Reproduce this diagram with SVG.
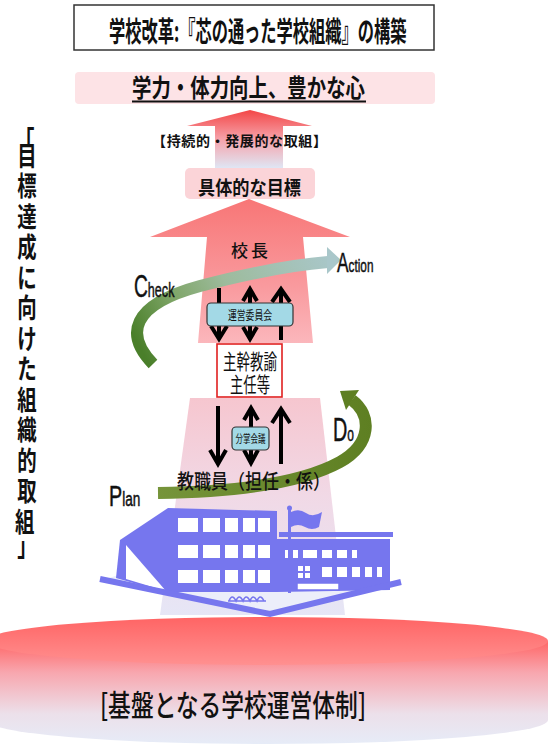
<svg xmlns="http://www.w3.org/2000/svg" width="550" height="753" viewBox="0 0 550 753">
<style>
.jp{font-family:"Noto Sans CJK JP","Noto Sans CJK SC",sans-serif;fill:#111}
.en{font-family:"Liberation Sans",Arial,sans-serif;fill:#111;stroke:#111;stroke-width:0.5}
.ln{stroke:#000;stroke-width:4;fill:none}
.hd{stroke:#000;stroke-width:4;fill:none;stroke-linejoin:miter}
.box{fill:#a3d9e6;stroke:#333;stroke-width:1.2}
.bld{fill:#7676ee}
.win{fill:#fff}
</style>
<defs>
<linearGradient id="gUp" gradientUnits="userSpaceOnUse" x1="0" y1="110" x2="0" y2="168">
<stop offset="0" stop-color="#f34646"/><stop offset="0.5" stop-color="#f6a2aa"/><stop offset="1" stop-color="#dfe6f4"/>
</linearGradient>
<linearGradient id="gBig" gradientUnits="userSpaceOnUse" x1="0" y1="199" x2="0" y2="345">
<stop offset="0" stop-color="#f87676"/><stop offset="0.6" stop-color="#f99a9e"/><stop offset="1" stop-color="#fbb8bd"/>
</linearGradient>
<linearGradient id="gLow" gradientUnits="userSpaceOnUse" x1="0" y1="398" x2="0" y2="615">
<stop offset="0" stop-color="#f6c6cf"/><stop offset="0.45" stop-color="#f1d9e6"/><stop offset="1" stop-color="#e6e6f6"/>
</linearGradient>
<linearGradient id="gTop" gradientUnits="userSpaceOnUse" x1="0" y1="617" x2="0" y2="665">
<stop offset="0" stop-color="#ff6464"/><stop offset="1" stop-color="#ff9090"/>
</linearGradient>
<linearGradient id="gSide" gradientUnits="userSpaceOnUse" x1="0" y1="641" x2="0" y2="745">
<stop offset="0" stop-color="#ff6666"/><stop offset="0.3" stop-color="#f8a6ae"/><stop offset="0.7" stop-color="#ece0ea"/><stop offset="1" stop-color="#e6ecf8"/>
</linearGradient>
<linearGradient id="gCA" gradientUnits="userSpaceOnUse" x1="150" y1="365" x2="335" y2="262">
<stop offset="0" stop-color="#4a7f2a"/><stop offset="0.25" stop-color="#7ea567"/><stop offset="0.5" stop-color="#9dbb9c"/><stop offset="1" stop-color="#a9c7ca"/>
</linearGradient>
<linearGradient id="gPD" gradientUnits="userSpaceOnUse" x1="158" y1="0" x2="372" y2="0">
<stop offset="0" stop-color="#76943a"/><stop offset="1" stop-color="#5e7f22"/>
</linearGradient>
</defs>

<rect width="550" height="753" fill="#fff"/>

<!-- title -->
<g id="title">
<rect x="74" y="5" width="360" height="45" fill="#fff" stroke="#333" stroke-width="1.5"/>
<text class="jp" transform="translate(109,42) scale(0.58,1)" font-size="28" font-weight="bold">学校改革:『芯の通った学校組織』の構築</text>
</g>

<!-- goal banner -->
<g id="goal">
<rect x="75" y="72" width="360" height="32" rx="4" fill="#fde3e6"/>
<text class="jp" x="132" y="97" font-size="25" font-weight="bold" textLength="233" lengthAdjust="spacingAndGlyphs">学力・体力向上、豊かな心</text>
<line x1="132" y1="101.5" x2="366" y2="101.5" stroke="#111" stroke-width="2"/>
</g>

<!-- upper arrow -->
<g id="upper-arrow">
<polygon points="250,110 312,126 283,126 283,168 215,168 215,126 187,126" fill="url(#gUp)"/>
<text class="jp" x="152" y="146" font-size="14" font-weight="bold" textLength="175" lengthAdjust="spacing">【持続的・発展的な取組】</text>
</g>

<g id="target">
<rect x="185" y="168" width="130" height="31" rx="5" fill="#fbd4d8"/>
<text class="jp" x="198" y="195" font-size="19" font-weight="bold" textLength="103" lengthAdjust="spacingAndGlyphs">具体的な目標</text>
</g>

<!-- big arrow (principal) -->
<g id="principal">
<polygon points="249,199 350,237 303,237 313,343 198,343 207,237 150,237" fill="url(#gBig)"/>
</g>

<!-- lower trapezoid -->
<g id="staff-area">
<polygon points="190,398 320,398 345,615 160,615" fill="url(#gLow)"/>
</g>

<!-- base cylinder -->
<g id="base">
<path d="M -14 641 L -14 720 A 281 24 0 0 0 548 720 L 548 641 Z" fill="url(#gSide)"/>
<ellipse cx="267" cy="641" rx="281" ry="24" fill="url(#gTop)"/>
<text class="jp" x="100" y="716" font-size="30" font-weight="500" textLength="266" lengthAdjust="spacingAndGlyphs">[基盤となる学校運営体制]</text>
</g>

<!-- school building -->
<g id="building">
<polygon points="102,580 270,614 401,582 300,576 122,574" fill="#eceefa"/>
<polygon class="bld" points="120,540 168,508 277,511 277,592 165,592 116,578"/>
<polygon class="win" points="126,545 166,591 126,579"/>
<polygon class="bld" points="277,539 390,539 390,590 277,592"/>
<rect class="bld" x="279" y="532" width="114" height="5"/>
<g class="win">
<rect x="178" y="518" width="20" height="14"/><rect x="203" y="518" width="17" height="14"/><rect x="225" y="518" width="13" height="14"/><rect x="243" y="518" width="12" height="14"/><rect x="258" y="518" width="12" height="14"/>
<rect x="178" y="545" width="20" height="13"/><rect x="203" y="545" width="17" height="13"/><rect x="225" y="545" width="13" height="13"/><rect x="243" y="545" width="12" height="13"/><rect x="258" y="545" width="12" height="13"/>
<rect x="178" y="570" width="20" height="13"/><rect x="203" y="570" width="17" height="13"/><rect x="225" y="570" width="13" height="13"/><rect x="243" y="570" width="12" height="13"/><rect x="258" y="570" width="12" height="13"/>
<rect x="285" y="550" width="5" height="8"/><rect x="293" y="550" width="5" height="8"/><rect x="303" y="550" width="14" height="8"/><rect x="322" y="550" width="10" height="8"/><rect x="337" y="550" width="10" height="8"/><rect x="352" y="550" width="5" height="8"/>
<rect x="298" y="566" width="5" height="5"/><rect x="305" y="566" width="5" height="5"/><rect x="298" y="573" width="5" height="5"/><rect x="305" y="573" width="5" height="5"/>
<rect x="322" y="567" width="10" height="10"/><rect x="337" y="567" width="10" height="10"/><rect x="352" y="567" width="8" height="10"/><rect x="365" y="567" width="7" height="10"/><rect x="377" y="567" width="5" height="10"/>
</g>
<rect x="297" y="583" width="42" height="7" fill="#fff" stroke="#7676ee" stroke-width="1.5"/>
<rect class="bld" x="288" y="509" width="3" height="84"/>
<circle class="bld" cx="289.5" cy="508" r="2.5"/>
<path class="bld" d="M 291 512 Q 299 508 306 513 Q 313 518 322 512 L 319 527 Q 312 531 305 527 Q 298 523 291 527 Z"/>
<polyline points="100,579 270,614 401,582" fill="none" stroke="#7676ee" stroke-width="6" stroke-linejoin="miter"/>
<path d="M 228 601 L 266 601 M 229 601 q 3 -8 7 0 q 3 -8 7 0 q 3 -8 7 0 q 3 -8 7 0 q 3 -8 7 0" fill="none" stroke="#7676ee" stroke-width="1.6"/>
</g>

<!-- cycle connectors -->
<g id="connectors">
<path d="M 153 364 C 125 335, 130 305, 200 286 C 250 273, 290 265, 328 262" fill="none" stroke="url(#gCA)" stroke-width="12"/>
<polygon points="341,260 327,247 327,274" fill="#a9c7ca"/>
<path d="M 158 493 C 230 492, 300 484, 340 462 C 372 444, 372 415, 352 400" fill="none" stroke="url(#gPD)" stroke-width="12"/>
<polygon points="340,391 359,390 346,410" fill="#5e7f22"/>
<!-- principal <-> leaders -->
<line class="ln" x1="219" y1="288" x2="219" y2="338"/>
<polyline class="hd" points="211,326 219,339 227,326"/>
<line class="ln" x1="250" y1="289" x2="250" y2="338"/>
<polyline class="hd" points="243,301 250,289 257,301"/>
<polyline class="hd" points="243,327 250,339 257,327"/>
<line class="ln" x1="281" y1="290" x2="281" y2="340"/>
<polyline class="hd" points="272,302 281,289 290,302"/>
<!-- leaders <-> staff -->
<line class="ln" x1="218" y1="406" x2="218" y2="463"/>
<polyline class="hd" points="210,450 218,464 226,450"/>
<line class="ln" x1="251" y1="409" x2="251" y2="462"/>
<polyline class="hd" points="244,420 251,408 258,420"/>
<polyline class="hd" points="244,450 251,463 258,450"/>
<line class="ln" x1="281" y1="410" x2="281" y2="464"/>
<polyline class="hd" points="272,423 281,409 290,423"/>
</g>

<g id="principal-label">
<text class="jp" font-size="17" font-weight="500"><tspan x="231" y="257">校</tspan><tspan x="251" y="257">長</tspan></text>
</g>

<g id="committee">
<rect class="box" x="207" y="303" width="86" height="23" rx="4"/>
<text class="jp" x="250" y="320" font-size="12" text-anchor="middle" textLength="44" lengthAdjust="spacingAndGlyphs">運営委員会</text>
</g>

<g id="leaders">
<rect x="217" y="344" width="65" height="53" fill="#fff" stroke="#e02020" stroke-width="1.6"/>
<text class="jp" x="250" y="369" font-size="21" text-anchor="middle" textLength="54" lengthAdjust="spacingAndGlyphs">主幹教諭</text>
<text class="jp" x="250" y="392" font-size="21" text-anchor="middle" textLength="40" lengthAdjust="spacingAndGlyphs">主任等</text>
</g>

<g id="division-meeting">
<rect class="box" x="232" y="427" width="37" height="23" rx="4"/>
<text class="jp" x="250.5" y="443" font-size="11" text-anchor="middle" textLength="30" lengthAdjust="spacingAndGlyphs">分掌会議</text>
</g>

<g id="staff">
<text class="jp" x="177" y="489" font-size="20" font-weight="500" textLength="153" lengthAdjust="spacingAndGlyphs">教職員（担任・係）</text>
</g>

<!-- PDCA labels -->
<g id="pdca">
<text class="en" transform="translate(134,297) scale(0.6,1)"><tspan font-size="32">C</tspan><tspan font-size="21">heck</tspan></text>
<text class="en" transform="translate(337,272) scale(0.62,1)"><tspan font-size="28">A</tspan><tspan font-size="19">ction</tspan></text>
<text class="en" transform="translate(333,441) scale(0.6,1)"><tspan font-size="33">D</tspan><tspan font-size="20">o</tspan></text>
<text class="en" transform="translate(109,506) scale(0.68,1)"><tspan font-size="29">P</tspan><tspan font-size="20">lan</tspan></text>
</g>

<!-- vertical heading -->
<g id="side-heading" transform="translate(27,0) scale(0.72,1)">
<text class="jp" font-size="27" font-weight="bold" text-anchor="middle">
<tspan x="0" y="151">「</tspan>
<tspan x="0" y="166">目</tspan><tspan x="0" y="196.5">標</tspan><tspan x="0" y="227">達</tspan><tspan x="0" y="257.5">成</tspan><tspan x="0" y="288">に</tspan><tspan x="0" y="318.5">向</tspan><tspan x="0" y="349">け</tspan><tspan x="0" y="379.5">た</tspan><tspan x="0" y="410">組</tspan><tspan x="0" y="440.5">織</tspan><tspan x="0" y="471">的</tspan><tspan x="0" y="501.5">取</tspan><tspan x="0" y="532">組</tspan>
<tspan x="0" y="556">」</tspan>
</text>
</g>
</svg>
